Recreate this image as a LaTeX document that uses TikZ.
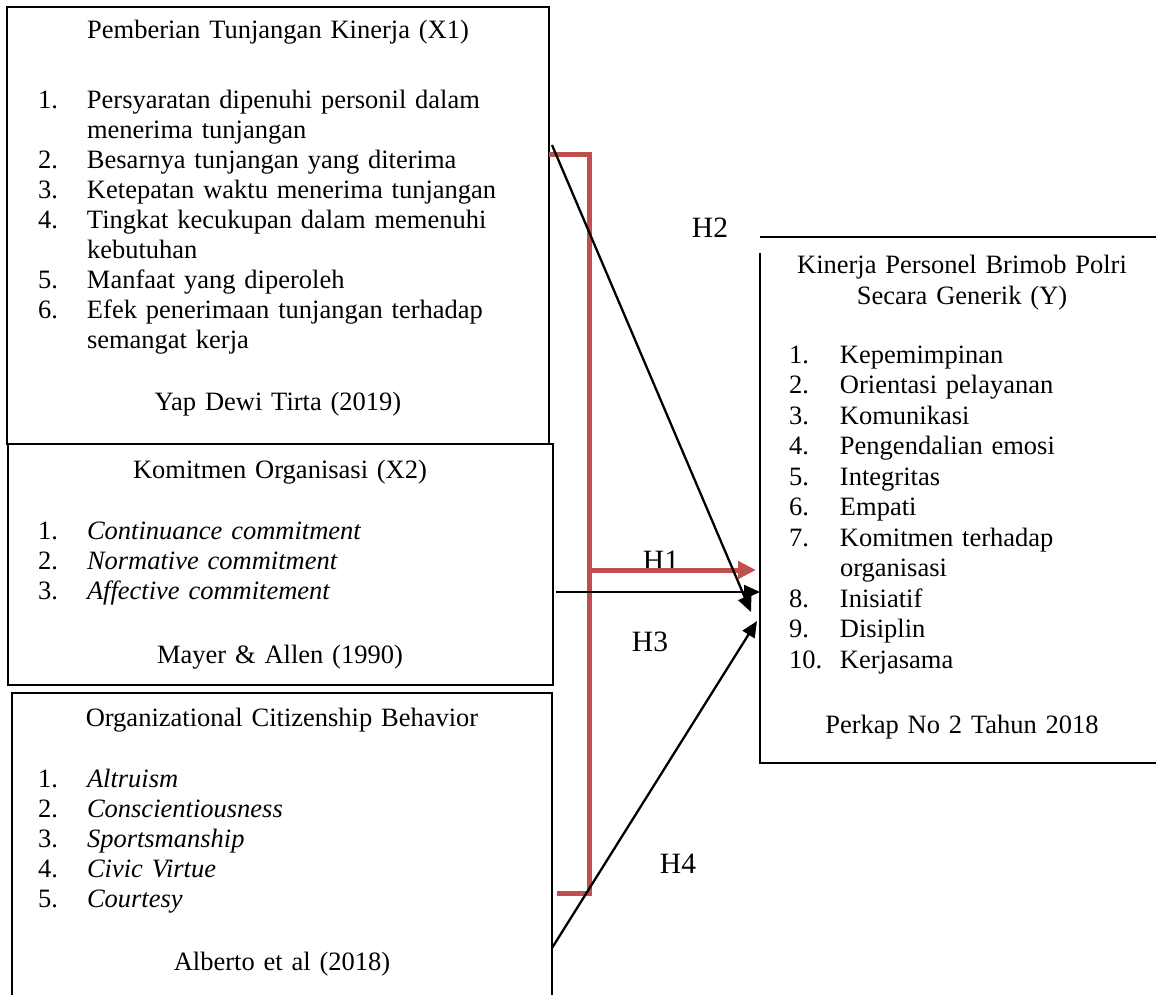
\documentclass[tikz,border=0pt]{standalone}
\usepackage{fontspec}
\setmainfont{Liberation Serif}
\usetikzlibrary{arrows.meta,positioning,calc}
\definecolor{hred}{HTML}{C0504D}
\newcommand{\litem}[2]{\hangindent=49pt\hangafter=1\makebox[49pt][l]{#1}#2\par}
\newcommand{\ritem}[2]{\hangindent=51pt\hangafter=1\makebox[51pt][l]{#1}#2\par}

\begin{document}
\begin{tikzpicture}[x=1pt,y=-1pt,>={Triangle[length=16pt,width=14pt]},
  txt/.style={font=\fontsize{26.5}{30}\selectfont,inner sep=0pt,outer sep=0pt},
  box/.style={draw,line width=2pt,anchor=north west,inner sep=0pt,outer sep=0pt},
  judul/.style={txt,anchor=base,text width=500pt,align=center},
  daftar/.style={txt,anchor=base west,text width=500pt,align=left},
  hlabel/.style={font=\fontsize{29.5}{32}\selectfont,anchor=base,inner sep=0pt},
  panah/.style={->,line width=2.3pt},
  merah/.style={draw=hred,line width=5pt}]
\useasboundingbox (0,0) rectangle (1156,994);

\node[box,minimum width=542pt,minimum height=437pt] (tk) at (7,7) {};
\node[box,minimum width=545pt,minimum height=241pt] (ko) at (8,444) {};
\node[box,minimum width=540pt,minimum height=315pt] (ocb) at (12,693) {};
\node[box,draw=none,minimum width=405pt,minimum height=526pt] (kp) at (760,237) {};
\draw[line width=2pt] (kp.north west) -- (kp.north east);
\draw[line width=2pt] ([yshift=-16pt]kp.north west) -- (kp.south west) -- (kp.south east);

\node[judul] (tk-judul) at (278,38) {Pemberian Tunjangan Kinerja (X1)};
\node[daftar] (tk-daftar) at (38,108) {%
\litem{1.}{Persyaratan dipenuhi personil dalam\newline menerima tunjangan}
\litem{2.}{Besarnya tunjangan yang diterima}
\litem{3.}{Ketepatan waktu menerima tunjangan}
\litem{4.}{Tingkat kecukupan dalam memenuhi\newline kebutuhan}
\litem{5.}{Manfaat yang diperoleh}
\litem{6.}{Efek penerimaan tunjangan terhadap\newline semangat kerja}};
\node[judul] (tk-sumber) at (278,410) {Yap Dewi Tirta (2019)};

\node[judul] (ko-judul) at (280,478) {Komitmen Organisasi (X2)};
\node[daftar] (ko-daftar) at (38,539) {%
\litem{1.}{\textit{Continuance commitment}}
\litem{2.}{\textit{Normative commitment}}
\litem{3.}{\textit{Affective commitement}}};
\node[judul] (ko-sumber) at (280,663) {Mayer \& Allen (1990)};

\node[judul] (ocb-judul) at (282,726) {Organizational Citizenship Behavior};
\node[daftar] (ocb-daftar) at (38,787) {%
\litem{1.}{\textit{Altruism}}
\litem{2.}{\textit{Conscientiousness}}
\litem{3.}{\textit{Sportsmanship}}
\litem{4.}{\textit{Civic Virtue}}
\litem{5.}{\textit{Courtesy}}};
\node[judul] (ocb-sumber) at (282,970) {Alberto et al (2018)};

\node[judul,font=\fontsize{26.5}{31}\selectfont] (kp-judul) at (962,273) {Kinerja Personel Brimob Polri\\Secara Generik (Y)};
\node[daftar,text width=360pt,font=\fontsize{26.5}{30.5}\selectfont] (kp-daftar) at (789,363) {%
\ritem{1.}{Kepemimpinan}
\ritem{2.}{Orientasi pelayanan}
\ritem{3.}{Komunikasi}
\ritem{4.}{Pengendalian emosi}
\ritem{5.}{Integritas}
\ritem{6.}{Empati}
\ritem{7.}{Komitmen terhadap\newline organisasi}
\ritem{8.}{Inisiatif}
\ritem{9.}{Disiplin}
\ritem{10.}{Kerjasama}};
\node[judul] (kp-sumber) at (962,733) {Perkap No 2 Tahun 2018};

\node[hlabel] (h1) at (661,570) {H1};
\node[hlabel] (h2) at (710,237) {H2};
\node[hlabel] (h3) at (650,651) {H3};
\node[hlabel] (h4) at (678,873) {H4};

\coordinate (mk-a) at (549,154);
\coordinate (mk-t) at (589,570);
\coordinate (mk-b) at (557,893);
\coordinate (h1-e) at (756,570);
\draw[merah] (mk-a) -| (mk-t) |- (mk-b);
\draw[merah,-{Triangle[length=18pt,width=17pt]}] (mk-t) -- (h1-e);

\coordinate (h2-a) at (552,145);
\coordinate (h2-b) at (751,612);
\coordinate (h3-a) at (556,592);
\coordinate (h3-b) at (760,592);
\coordinate (h4-a) at (552,948);
\coordinate (h4-b) at (757,621);
\draw[panah] (h2-a) -- (h2-b);
\draw[panah] (h3-a) -- (h3-b);
\draw[panah] (h4-a) -- (h4-b);
\end{tikzpicture}
\end{document}
